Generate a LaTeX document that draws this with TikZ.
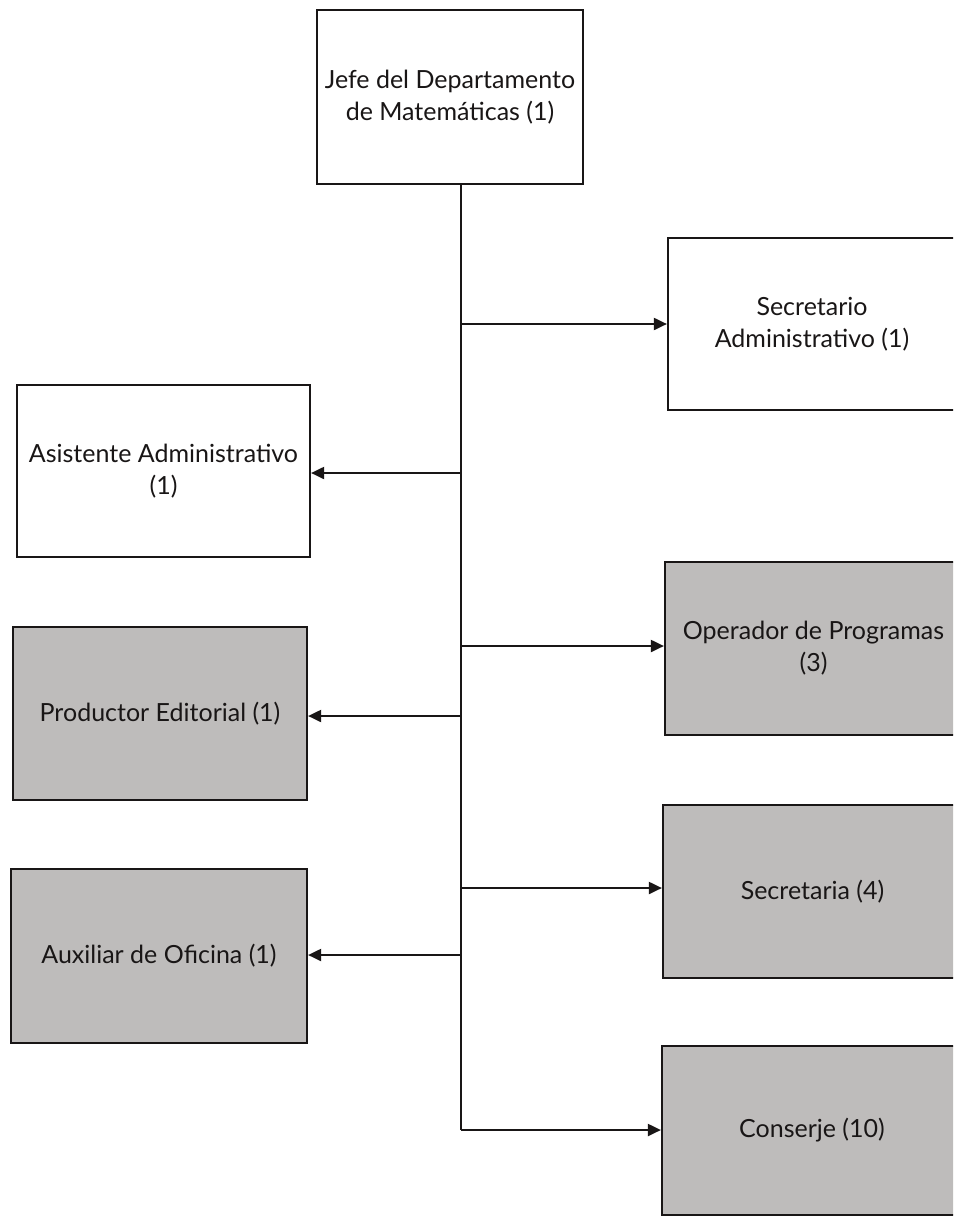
\documentclass[tikz,border=0pt]{standalone}
\usepackage{fontspec}
\setmainfont{Lato}
\usetikzlibrary{arrows.meta}
\definecolor{boxgray}{RGB}{190,188,187}
\definecolor{ink}{RGB}{25,22,22}
\begin{document}
\begin{tikzpicture}[x=1pt,y=-1pt,
  orgbox/.style={draw=ink,line width=2.2pt,rectangle,align=center,inner sep=0pt,
    font=\fontsize{25}{32}\selectfont,text=ink},
  graybox/.style={orgbox,fill=boxgray},
  link/.style={draw=ink,line width=2pt},
  arr/.style={link,-{Triangle[length=13pt,width=12pt]}}]
\useasboundingbox (0,0) rectangle (953,1218);
\clip (0,0) rectangle (953,1218);
\fill[white] (0,0) rectangle (953,1218);
% boxes
\node[orgbox,minimum width=266pt,minimum height=174pt] (jefe) at (450,97)
  {Jefe del Departamento\\de Matemáticas (1)};
\node[orgbox,minimum width=288pt,minimum height=172pt] (secadm) at (812,324)
  {Secretario\\Administrativo (1)};
\node[orgbox,minimum width=293pt,minimum height=172pt] (asis) at (163.5,471)
  {Asistente Administrativo\\(1)};
\node[graybox,minimum width=297pt,minimum height=173pt] (oper) at (813.5,648.5)
  {Operador de Programas\\(3)};
\node[graybox,minimum width=294pt,minimum height=173pt] (prod) at (160,713.5)
  {Productor Editorial (1)};
\node[graybox,minimum width=299pt,minimum height=173pt] (secr) at (812.5,891.5)
  {Secretaria (4)};
\node[graybox,minimum width=296pt,minimum height=174pt] (aux) at (159,956)
  {Auxiliar de Oficina (1)};
\node[graybox,minimum width=300pt,minimum height=169pt] (cons) at (812,1130.5)
  {Conserje (10)};
% trunk points
\coordinate (t1) at (461,324);
\coordinate (t2) at (461,473);
\coordinate (t3) at (461,646);
\coordinate (t4) at (461,716);
\coordinate (t5) at (461,888);
\coordinate (t6) at (461,955);
\coordinate (t7) at (461,1130);
\draw[link] (jefe.south -| t1) -- (t7);
\draw[arr] (t1) -- (t1 -| secadm.west);
\draw[arr] (t2) -- (t2 -| asis.east);
\draw[arr] (t3) -- (t3 -| oper.west);
\draw[arr] (t4) -- (t4 -| prod.east);
\draw[arr] (t5) -- (t5 -| secr.west);
\draw[arr] (t6) -- (t6 -| aux.east);
\draw[arr] (t7) -- (t7 -| cons.west);
\end{tikzpicture}
\end{document}
